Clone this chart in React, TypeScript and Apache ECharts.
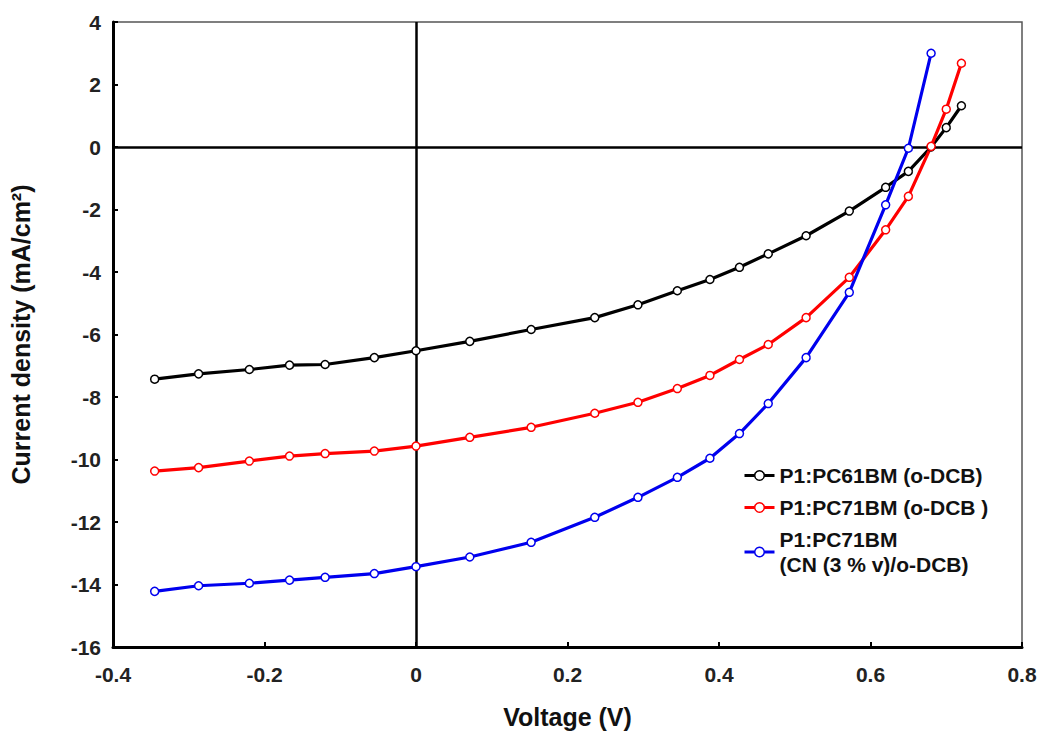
import React, { useEffect, useRef } from "react";
import * as echarts from "echarts";

const voltage = [-0.345, -0.287, -0.22, -0.167, -0.12, -0.055, 0, 0.071, 0.152, 0.236, 0.293, 0.345, 0.388, 0.427, 0.465, 0.515, 0.572, 0.62, 0.65, 0.68, 0.7, 0.72];
const pc61 = [-7.43, -7.26, -7.12, -6.98, -6.96, -6.74, -6.52, -6.22, -5.84, -5.46, -5.05, -4.6, -4.24, -3.85, -3.42, -2.84, -2.05, -1.29, -0.78, 0.0, 0.62, 1.32];
const pc71 = [-10.37, -10.26, -10.05, -9.89, -9.81, -9.73, -9.57, -9.29, -8.97, -8.52, -8.17, -7.73, -7.31, -6.8, -6.32, -5.46, -4.17, -2.65, -1.58, 0.02, 1.21, 2.68];
const pc71cn = [-14.22, -14.04, -13.96, -13.86, -13.77, -13.65, -13.43, -13.12, -12.65, -11.85, -11.21, -10.57, -9.96, -9.17, -8.21, -6.74, -4.65, -1.85, -0.04, 3.0];
const seriesNames = ["P1:PC61BM (o-DCB)", "P1:PC71BM (o-DCB )", "P1:PC71BM\n(CN (3 % v)/o-DCB)"];
const colors = ["#000000", "#ff0000", "#0000ee"];

const pair = (ys: number[]) => ys.map((y, i) => [voltage[i], y]);

export default function App() {
  const ref = useRef<HTMLDivElement>(null);
  useEffect(() => {
    document.body.style.margin = "0";
    const chart = echarts.init(ref.current!, null, { renderer: "svg" });
    const font = "'Liberation Sans', Arial, sans-serif";
    const mk = (name: string, data: number[], color: string, extra: any = {}) => ({
      name,
      type: "line",
      data: pair(data),
      symbol: "circle",
      symbolSize: 8,
      lineStyle: { color, width: 3.2 },
      itemStyle: { color: "#ffffff", borderColor: color, borderWidth: 1.5 },
      z: 3,
      ...extra,
    });
    chart.setOption({
      animation: false,
      backgroundColor: "#ffffff",
      color: colors,
      grid: { left: 113, top: 22, right: 22, bottom: 91, show: true, borderColor: "#555", borderWidth: 1.5, backgroundColor: "transparent" },
      legend: {
        orient: "vertical",
        left: 738,
        top: 458,
        itemWidth: 30,
        itemHeight: 12,
        itemGap: 7,
        textStyle: { fontFamily: font, fontWeight: "bold", fontSize: 21, color: "#111", lineHeight: 25 },
        data: seriesNames.map((n, i) => ({ name: n, itemStyle: { color: "#fff", borderColor: colors[i], borderWidth: 1.5 }, lineStyle: { color: colors[i], width: 3 } })),
      },
      xAxis: {
        type: "value",
        min: -0.4,
        max: 0.8,
        interval: 0.2,
        name: "Voltage (V)",
        nameLocation: "middle",
        nameGap: 57,
        nameTextStyle: { fontFamily: font, fontWeight: "bold", fontSize: 25, color: "#111" },
        axisLine: { onZero: false, lineStyle: { color: "#000", width: 3 } },
        axisTick: { inside: true, length: 5, lineStyle: { color: "#000", width: 2 } },
        axisLabel: { fontFamily: font, fontWeight: "bold", fontSize: 21, color: "#222", margin: 17, formatter: (v: number) => String(Math.round(v * 10) / 10) },
        splitLine: { show: false },
      },
      yAxis: {
        type: "value",
        min: -16,
        max: 4,
        interval: 2,
        name: "Current density (mA/cm²)",
        nameLocation: "middle",
        nameGap: 80,
        nameTextStyle: { fontFamily: font, fontWeight: "bold", fontSize: 25, color: "#111" },
        axisLine: { onZero: false, lineStyle: { color: "#000", width: 3 } },
        axisTick: { inside: true, length: 5, lineStyle: { color: "#000", width: 2 } },
        axisLabel: { fontFamily: font, fontWeight: "bold", fontSize: 21, color: "#222", margin: 12 },
        splitLine: { show: false },
      },
      series: [
        mk(seriesNames[0], pc61, colors[0], {
          markLine: {
            silent: true,
            symbol: "none",
            label: { show: false },
            lineStyle: { color: "#000", width: 2.5, type: "solid" },
            data: [{ xAxis: 0 }, { yAxis: 0 }],
            z: 1,
          },
        }),
        mk(seriesNames[1], pc71, colors[1]),
        { ...mk(seriesNames[2], pc71cn, colors[2]), data: pc71cn.map((y, i) => [voltage[i], y]) },
      ],
    });
    return () => chart.dispose();
  }, []);
  return <div ref={ref} style={{ width: 1044, height: 738 }} />;
}
